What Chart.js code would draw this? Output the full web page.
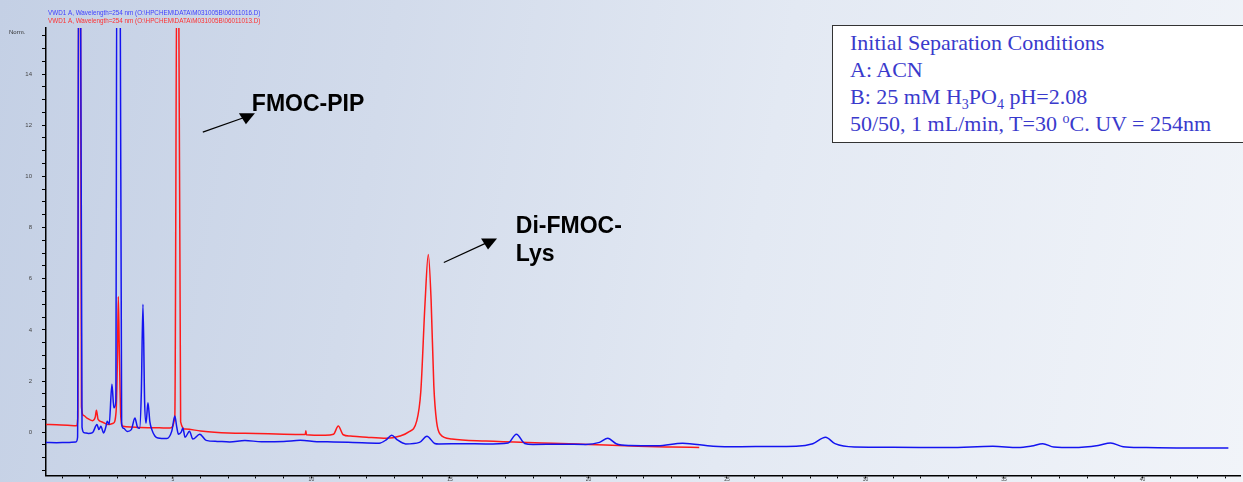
<!DOCTYPE html>
<html>
<head>
<meta charset="utf-8">
<script src="https://cdn.jsdelivr.net/npm/chart.js@4/dist/chart.umd.min.js"></script>
<style>
  html, body { margin: 0; padding: 0; }
  body {
    width: 1243px; height: 482px; overflow: hidden;
    background: linear-gradient(100deg, #c4d0e5 0%, #d2dbeb 30%, #e3e9f3 60%, #f1f4f9 100%);
  }
  #wrap { position: relative; width: 1243px; height: 482px; overflow: hidden; }
  #chrom { display: block; }
  #conditions {
    position: absolute; left: 832px; top: 25px; width: 420px; height: 118px;
    background: #fff; border: 1.5px solid #333; box-sizing: border-box;
    font-family: "Liberation Serif", "Times New Roman", serif; font-size: 22px;
    line-height: 27px; color: #3a3acc; padding: 3px 0 0 17px;
  }
  #conditions sub, #conditions sup { font-size: 14px; line-height: 0; }
</style>
</head>
<body>
<div id="wrap">
  <canvas id="chrom" width="1243" height="489"></canvas>
  <div id="conditions">
    Initial Separation Conditions<br>
    A: ACN<br>
    B: 25 mM H<sub>3</sub>PO<sub>4</sub> pH=2.08<br>
    50/50, 1 mL/min, T=30 <sup>o</sup>C. UV = 254nm
  </div>
</div>
<script>
// retention time (min) and signal (Norm.)
const blueTime = [0.42, 0.8, 1.2, 1.5, 1.56, 1.6, 1.66, 1.72, 1.8, 1.95, 2.1, 2.26, 2.33, 2.4, 2.5, 2.58, 2.63, 2.7, 2.8, 2.87,
  2.94, 2.98, 3.09, 3.15, 3.22, 3.35, 3.5, 3.63, 3.72, 3.8, 3.86, 3.92, 3.98, 4.03, 4.1, 4.17, 4.24, 4.35, 4.46, 4.78,
  4.96, 5.07, 5.14, 5.2, 5.3, 5.36, 5.44, 5.6, 5.72, 5.97, 6.2, 6.6, 7.05, 7.6, 8.2, 9.0, 9.6, 10.2, 10.8, 11.5,
  12.45, 12.7, 12.9, 13.1, 13.4, 13.9, 14.17, 14.45, 14.6, 15.5, 16.3, 17.1, 17.4, 17.7, 18.0, 19.0, 19.9, 20.4, 20.7, 21.0,
  21.5, 22.5, 23.4, 24.5, 25.5, 26.5, 27.5, 28.1, 28.56, 28.9, 29.6, 31.0, 33.0, 34.6, 35.5, 36.0, 36.4, 36.8, 37.5, 38.4,
  38.85, 39.3, 40.0, 41.5, 43.1];
const blueSignal = [-0.40, -0.41, -0.40, -0.38, -0.2, 20, 20, 0.2, -0.02, -0.05, -0.02, 0.3, 0.1, 0.23, -0.03, 0.2, 0.43, 0.3, 1.87, 0.95,
  1.2, 20, 20, 0.3, 0.15, 0.03, 0.1, 0.55, 0.2, 0.15, 1.5, 5.0, 1.2, 0.35, 1.15, 0.4, 0.1, -0.15, -0.23, -0.25,
  0.04, 0.63, 0.2, -0.08, 0.0, 0.16, -0.2, 0.04, -0.27, -0.08, -0.32, -0.36, -0.38, -0.33, -0.37, -0.36, -0.32, -0.37, -0.38, -0.40,
  -0.43, -0.3, -0.12, -0.3, -0.46, -0.4, -0.16, -0.44, -0.46, -0.45, -0.46, -0.42, -0.08, -0.44, -0.48, -0.47, -0.48, -0.4, -0.24, -0.45,
  -0.52, -0.53, -0.43, -0.55, -0.57, -0.56, -0.55, -0.45, -0.2, -0.45, -0.58, -0.59, -0.6, -0.55, -0.6, -0.54, -0.45, -0.58, -0.6, -0.52,
  -0.42, -0.57, -0.6, -0.62, -0.62];

const redTime = [0.42, 0.8, 1.2, 1.52, 1.57, 1.6, 1.66, 1.7, 1.78, 1.9, 2.1, 2.2, 2.24, 2.3, 2.45, 2.65, 2.85, 2.95, 3.0, 3.03,
  3.07, 3.12, 3.2, 3.5, 3.8, 4.5, 4.9, 5.07, 5.15, 5.2, 5.28, 5.45, 6.0, 6.5, 7.0, 8.0, 9.0, 9.78, 9.8, 9.82,
  10.5, 10.8, 10.97, 11.15, 11.4, 12.0, 12.7, 13.2, 13.5, 13.8, 13.95, 14.1, 14.22, 14.32, 14.42, 14.52, 14.65, 15.07, 16.3, 18.7,
  20.0, 21.8, 23.0, 24.0];
const redSignal = [0.30, 0.29, 0.27, 0.25, 0.6, 20, 20, 1.0, 0.65, 0.55, 0.45, 0.6, 0.86, 0.5, 0.4, 0.3, 0.35, 0.8, 3.0, 5.3,
  3.0, 0.6, 0.23, 0.2, 0.18, 0.17, 0.16, 0.6, 20, 20, 0.4, 0.12, 0.05, 0.0, -0.03, -0.05, -0.08, -0.09, 0.06, -0.1,
  -0.12, -0.08, 0.24, -0.1, -0.15, -0.2, -0.24, -0.15, 0.0, 0.43, 1.6, 5.0, 6.95, 5.2, 1.8, 0.4, -0.08, -0.27, -0.35, -0.43,
  -0.48, -0.55, -0.58, -0.6];

const traceNames = [
  'VWD1 A, Wavelength=254 nm (O:\\HPCHEM\\DATA\\M031005B\\06011016.D)',
  'VWD1 A, Wavelength=254 nm (O:\\HPCHEM\\DATA\\M031005B\\06011013.D)'
];
const traceColors = ['#1414f0', '#ff1a1a'];

const xMin = 0.42, xMax = 43.52;
const yMin = -1.69, yMax = 15.8;

const toPoints = (t, v) => t.map((x, i) => ({ x: x, y: v[i] }));

// labels and arrows, in data coordinates
const peakLabels = [
  { lines: ['FMOC-PIP'], x: 7.85, y: 12.55, from: [6.08, 11.73], to: [7.6, 12.31] },
  { lines: ['Di-FMOC-', 'Lys'], x: 17.38, y: 7.8, from: [14.78, 6.63], to: [16.34, 7.41] }
];

const overlay = {
  id: 'overlay',
  afterDraw(chart) {
    const c = chart.ctx;
    const xs = chart.scales.x, ys = chart.scales.y;
    c.save();
    c.textBaseline = 'alphabetic';
    c.textAlign = 'left';
    c.font = '6.3px "Liberation Sans", Arial, sans-serif';
    c.fillStyle = '#4040ff';
    c.fillText(traceNames[0], 48, 15);
    c.fillStyle = '#ff3030';
    c.fillText(traceNames[1], 48, 23);
    c.fillStyle = '#333';
    c.font = '6px "Liberation Sans", Arial, sans-serif';
    c.fillText('Norm.', 9, 34);

    peakLabels.forEach(p => {
      const x0 = xs.getPixelForValue(p.from[0]), y0 = ys.getPixelForValue(p.from[1]);
      const x1 = xs.getPixelForValue(p.to[0]), y1 = ys.getPixelForValue(p.to[1]);
      c.strokeStyle = '#000';
      c.lineWidth = 1.2;
      c.beginPath();
      c.moveTo(x0, y0);
      c.lineTo(x1, y1);
      c.stroke();
      c.fillStyle = '#000';
      c.beginPath();
      c.moveTo(x1 - 6, y1 - 4);
      c.lineTo(x1 + 10, y1 - 4);
      c.lineTo(x1 + 1, y1 + 7);
      c.closePath();
      c.fill();
      c.font = 'bold 23px "Liberation Sans", Arial, sans-serif';
      const tx = xs.getPixelForValue(p.x);
      let ty = ys.getPixelForValue(p.y);
      p.lines.forEach(line => {
        c.fillText(line, tx, ty);
        ty += 28;
      });
    });
    c.restore();
  }
};

new Chart(document.getElementById('chrom'), {
  type: 'line',
  data: {
    datasets: [
      {
        label: traceNames[0],
        data: toPoints(blueTime, blueSignal),
        borderColor: traceColors[0],
        borderWidth: 1.5,
        pointRadius: 0,
        cubicInterpolationMode: 'monotone'
      },
      {
        label: traceNames[1],
        data: toPoints(redTime, redSignal),
        borderColor: traceColors[1],
        borderWidth: 1.5,
        pointRadius: 0,
        cubicInterpolationMode: 'monotone'
      }
    ]
  },
  options: {
    responsive: false,
    animation: false,
    devicePixelRatio: 1,
    layout: { padding: { top: 28, right: 3, left: 0, bottom: 0 } },
    plugins: { legend: { display: false }, tooltip: { enabled: false } },
    scales: {
      x: {
        type: 'linear',
        min: xMin,
        max: xMax,
        afterFit: s => { s.height = 8; },
        border: { display: true, color: '#000', width: 1.5 },
        grid: { drawOnChartArea: false, drawTicks: true, tickLength: 3, color: '#000' },
        ticks: {
          stepSize: 1,
          includeBounds: false,
          autoSkip: false,
          maxRotation: 0,
          padding: -2,
          color: '#444',
          font: { size: 5, family: '"Liberation Sans", Arial, sans-serif' },
          callback: v => (Math.abs(v % 5) < 1e-6 ? v : '')
        }
      },
      y: {
        min: yMin,
        max: yMax,
        afterFit: s => { s.width = 46; },
        border: { display: true, color: '#000', width: 1.5 },
        grid: { drawOnChartArea: false, drawTicks: true, tickLength: 4, color: '#000' },
        ticks: {
          stepSize: 0.5,
          includeBounds: false,
          autoSkip: false,
          padding: 10,
          color: '#444',
          font: { size: 6, family: '"Liberation Sans", Arial, sans-serif' },
          callback: v => (Math.abs(v % 2) < 1e-6 ? v : '')
        }
      }
    }
  },
  plugins: [overlay]
});
</script>
</body>
</html>
